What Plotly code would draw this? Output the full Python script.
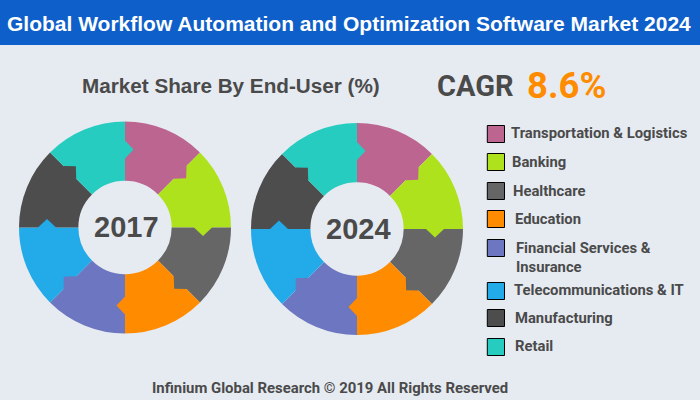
import math
import plotly.graph_objects as go

# Market share by end-user
categories = ['Transportation & Logistics', 'Banking', 'Healthcare', 'Education',
              'Financial Services &<br>Insurance', 'Telecommunications & IT',
              'Manufacturing', 'Retail']
share_2017 = [12.5, 12.5, 12.5, 12.5, 12.5, 12.5, 12.5, 12.5]
share_2024 = [12.5, 12.5, 12.5, 12.5, 12.5, 12.5, 12.5, 12.5]
colors = ['#BC6590', '#AEE21D', '#666666', '#FF8C00', '#6D76C0', '#23AAE8', '#4D4D4D', '#27CCC0']

W, H = 700, 400
BG = '#E6EBF2'
TEXT = '#4A4A4A'
NARROW = 'Roboto'


def px(x):
    return x / W


def py(y):
    return 1 - y / H


def donut(values, cx, cy, r):
    return go.Pie(
        values=values,
        labels=categories,
        marker=dict(colors=colors, line=dict(width=0)),
        hole=0.44,
        sort=False,
        direction='clockwise',
        rotation=0,
        textinfo='none',
        showlegend=False,
        domain=dict(x=[px(cx - r), px(cx + r)], y=[py(cy + r), py(cy - r)]),
    )


# the puzzle tab each slice pushes into the next one
def tab_path(cx, cy, angle):
    a = math.radians(angle)
    pts = []
    for r, t in [(69, -0.6), (69, 0), (78, 8.5), (87, 0), (87, -0.6)]:
        x = cx + r * math.sin(a) + t * math.cos(a)
        y = cy - r * math.cos(a) + t * math.sin(a)
        pts.append(f'{px(x):.5f},{py(y):.5f}')
    return 'M' + ' L'.join(pts) + ' Z'


def label(text, x, y, size, color=TEXT, family=NARROW, anchor='left', bold=True):
    return dict(
        text=text, x=px(x), y=py(y), xref='paper', yref='paper',
        xanchor=anchor, yanchor='middle', showarrow=False, align='left',
        font=dict(family=family, size=size, color=color, weight='bold' if bold else 'normal'),
    )


fig = go.Figure(data=[donut(share_2017, 125, 227.5, 106), donut(share_2024, 357, 229, 106)])

shapes = [dict(type='rect', xref='paper', yref='paper', x0=0, x1=1, y0=py(45), y1=1,
               fillcolor='#0E5FC9', line=dict(width=0), layer='below')]

# tabs on both donuts, last slice's colour sits on the 12 o'clock boundary
for cx, cy in [(125, 227.5), (357, 229)]:
    for i in range(8):
        shapes.append(dict(type='path', xref='paper', yref='paper',
                           path=tab_path(cx, cy, i * 45),
                           fillcolor=colors[i - 1], line=dict(width=0)))

# legend swatches and labels
swatch_y = [134, 162, 191, 219, 248, 291, 318, 347]
label_x = [509, 509.5, 510.5, 512.5, 513.5, 512, 512.5, 512.5]
label_y = [133, 161.5, 191, 219, 257, 290, 317.5, 346]

annotations = [
    label('Global Workflow Automation and Optimization Software Market 2024', 349, 23, 21,
          color='white', family='Liberation Sans', anchor='center'),
    label('Market Share By End-User (%)', 231, 85, 20.7, family='Liberation Sans', anchor='center'),
    label('CAGR', 435, 86, 29),
    label('8.6%', 525, 85, 36.5, color='#FF8C00'),
    label('2017', 126, 227, 29, family='Liberation Sans', anchor='center'),
    label('2024', 358, 229, 29, family='Liberation Sans', anchor='center'),
    label('Infinium Global Research © 2019 All Rights Reserved', 330, 388, 14.9, anchor='center'),
]

for name, color, sy, lx, ly in zip(categories, colors, swatch_y, label_x, label_y):
    shapes.append(dict(type='rect', xref='paper', yref='paper',
                       x0=px(487.3), x1=px(504.5), y0=py(sy + 8.5), y1=py(sy - 8.5),
                       fillcolor=color, line=dict(color='black', width=1)))
    annotations.append(label(name, lx, ly, 14.8))

fig.update_layout(
    width=W,
    height=H,
    margin=dict(l=0, r=0, t=0, b=0),
    paper_bgcolor=BG,
    plot_bgcolor=BG,
    shapes=shapes,
    annotations=annotations,
)

# browser default body margin would shift everything by 8px
fig.write_html("out.html", config=dict(displayModeBar=False),
               post_script="document.body.style.margin = '0';")
